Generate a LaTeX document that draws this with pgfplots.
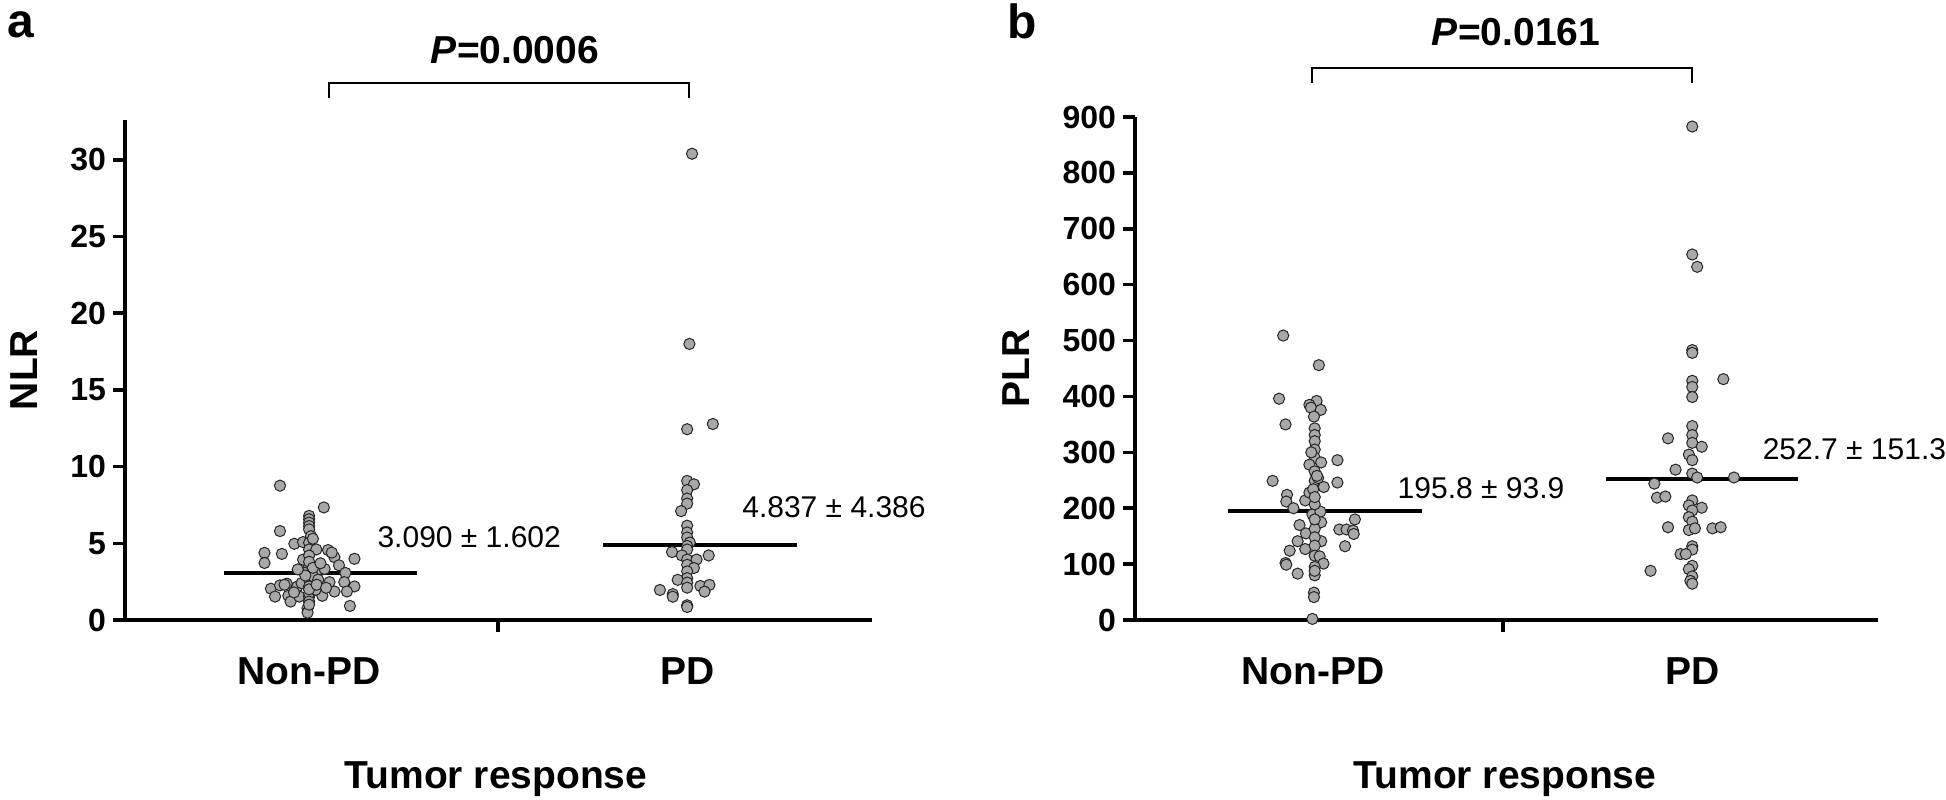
\documentclass[border=0pt]{standalone}
\usepackage{fontspec}
\setmainfont{Liberation Sans}
\usepackage{pgfplots}
\pgfplotsset{compat=1.18}

\definecolor{dotgray}{gray}{0.66}

\tikzset{
  statlab/.style={anchor=west, inner sep=0pt, font=\fontsize{15}{16}\selectfont},
  meanline/.style={line width=2pt, black},
}
\pgfplotsset{
  dotstyle/.style={only marks, mark=*, mark size=2.8pt,
    mark options={fill=dotgray, draw=black!85, line width=0.5pt}},
  panel/.style={
    scale only axis, axis lines=left, clip=false,
    axis line style={-, line width=2pt},
    xtick={1,2}, xticklabels={Non-PD,PD},
    xtick style={draw=none},
    ytick style={line width=1.8pt, black},
    tick align=outside, major tick length=6pt,
    /pgf/number format/assume math mode=true,
    yticklabel style={font=\fontsize{16}{16}\selectfont\bfseries},
    xticklabel style={font=\fontsize{19.5}{20}\selectfont\bfseries, anchor=base, inner sep=0pt, yshift=-26pt},
  },
}

\begin{document}
\begin{tikzpicture}
\useasboundingbox (0,0) rectangle (973pt,-399.5pt);

% ---------------- panel a ----------------
\begin{axis}[panel,
  at={(62.5pt,-310pt)}, anchor=south west,
  width=373.5pt, height=250pt,
  xmin=0.513, xmax=2.489, ymin=0, ymax=32.6,
  ytick={0,5,...,30},
  ylabel={NLR}, xlabel={Tumor response},
  every axis y label/.style={at={(axis description cs:-0.1352,0.5)}, rotate=90, anchor=center, font=\fontsize{19.5}{20}\selectfont\bfseries},
  every axis x label/.style={at={(axis description cs:0.4967,-0.336)}, anchor=base, font=\fontsize{19.5}{20}\selectfont\bfseries},
]
\addplot[dotstyle] table {
x y
0.923 8.76
1.039 7.34
1.000 6.79
1.000 6.57
1.000 6.35
1.000 6.13
1.000 5.91
0.923 5.80
1.005 5.47
0.961 4.97
0.984 5.08
1.000 5.04
0.882 4.38
0.882 3.72
0.928 4.31
1.000 4.60
1.019 4.60
1.050 4.56
1.067 4.10
1.079 3.57
1.120 3.99
0.984 3.94
1.000 3.50
0.989 3.07
1.010 3.18
1.028 3.29
1.041 3.33
1.096 3.07
1.054 2.47
1.093 2.47
1.120 2.19
1.100 1.86
1.067 1.86
0.899 2.04
0.923 2.26
0.941 2.37
0.969 2.19
0.980 2.41
0.910 1.53
0.945 1.58
0.951 1.20
0.974 1.53
1.000 1.53
1.035 1.58
1.000 2.63
1.000 2.19
1.000 1.75
0.996 0.77
0.996 0.48
1.108 0.92
1.010 2.85
1.024 2.63
1.017 1.97
1.000 4.20
1.000 3.80
1.010 3.40
0.990 2.90
1.000 2.00
1.000 1.20
1.000 1.00
1.020 2.30
0.960 1.80
1.045 2.10
0.935 2.30
1.030 3.70
1.060 4.40
0.970 3.30
1.010 5.30
};
\addplot[dotstyle] table {
x y
2.013 30.40
2.006 18.00
2.000 12.44
2.068 12.78
2.000 9.07
2.018 8.85
2.000 8.47
2.000 7.92
2.000 7.59
1.984 7.10
2.000 6.15
2.000 5.71
2.000 5.38
2.007 5.05
2.000 4.83
2.000 4.60
1.960 4.43
1.986 4.21
2.057 4.21
2.000 3.94
2.025 3.94
2.000 3.60
2.018 3.39
2.000 3.17
2.000 2.73
1.975 2.62
2.000 2.44
2.000 2.11
2.035 2.22
2.059 2.29
2.046 1.85
1.928 1.96
1.962 1.69
1.962 1.52
2.000 0.96
2.000 0.85
};
\addplot[meanline] coordinates {(0.775,3.05) (1.286,3.05)};
\addplot[meanline] coordinates {(1.778,4.90) (2.291,4.90)};
\node[statlab] at (axis cs:1.180,5.41) {3.090 ± 1.602};
\node[statlab] at (axis cs:2.145,7.37) {4.837 ± 4.386};
\draw[line width=1.8pt] (axis cs:1.5,0) -- ++(0pt,-6pt);
\draw[line width=2pt] (axis cs:0.513,0) -- ++(-6pt,0pt);
\end{axis}

% ---------------- panel b ----------------
\begin{axis}[panel,
  at={(567.5pt,-310pt)}, anchor=south west,
  width=371.5pt, height=251.5pt,
  xmin=0.53, xmax=2.49, ymin=0, ymax=900,
  ytick={0,100,...,900},
  ylabel={PLR}, xlabel={Tumor response},
  every axis y label/.style={at={(axis description cs:-0.160,0.5)}, rotate=90, anchor=center, font=\fontsize{19.5}{20}\selectfont\bfseries},
  every axis x label/.style={at={(axis description cs:0.498,-0.334)}, anchor=base, font=\fontsize{19.5}{20}\selectfont\bfseries},
]
\addplot[dotstyle] table {
x y
0.921 509
1.015 456
0.910 396
0.927 350
1.009 392
0.990 385
0.994 380
1.020 376
1.002 364
1.004 343
1.004 331
1.004 320
1.004 305
1.004 290
1.064 286
0.990 278
1.021 282
0.893 249
1.064 246
1.004 266
1.004 249
1.013 254
1.028 238
0.931 224
0.929 212
0.948 200
0.979 214
0.990 228
1.000 234
0.998 189
1.019 194
1.004 207
1.110 180
1.069 162
1.088 162
1.105 160
1.107 154
1.084 132
0.964 170
0.981 155
0.959 141
0.979 127
0.938 124
1.021 175
1.004 163
1.021 141
1.004 148
1.004 133
0.927 102
0.929 99
0.959 83
1.004 115
1.017 114
1.027 101
1.004 95
1.004 80
1.002 49
1.002 41
0.998 2
1.004 220
1.004 180
1.010 258
1.004 88
0.995 300
};
\addplot[dotstyle] table {
x y
2.000 883
2.000 654
2.013 632
2.000 483
2.000 478
2.082 431
2.000 428
2.000 417
2.000 399
2.000 347
2.000 331
2.000 317
2.025 310
1.991 296
2.000 286
1.936 325
1.956 269
2.000 262
2.013 255
2.110 255
1.900 244
1.907 219
1.929 221
2.000 214
1.991 205
2.025 201
2.000 196
1.991 184
2.000 176
1.936 166
1.991 161
2.007 164
2.053 164
2.075 166
2.000 132
2.000 126
1.969 118
1.983 118
2.000 97
1.991 91
1.890 88
2.000 78
1.995 70
2.000 65
};
\addplot[meanline] coordinates {(0.776,195.8) (1.288,195.8)};
\addplot[meanline] coordinates {(1.773,252.7) (2.280,252.7)};
\node[statlab] at (axis cs:1.222,236) {195.8 ± 93.9};
\node[statlab] at (axis cs:2.185,306) {252.7 ± 151.3};
\draw[line width=1.8pt] (axis cs:1.5,0) -- ++(0pt,-6pt);
\draw[line width=2pt] (axis cs:0.53,0) -- ++(-5pt,0pt);
\end{axis}

% ---------------- panel letters, P values, brackets ----------------
\node[anchor=base west, inner sep=0pt, font=\fontsize{24}{24}\selectfont\bfseries] at (3.5pt,-18.5pt) {a};
\node[anchor=base west, inner sep=0pt, font=\fontsize{24}{24}\selectfont\bfseries] at (503.5pt,-19pt) {b};
\node[anchor=base, inner sep=0pt, font=\fontsize{19.5}{20}\selectfont\bfseries] at (257.5pt,-31.5pt) {\textit{P}=0.0006};
\node[anchor=base, inner sep=0pt, font=\fontsize{19.5}{20}\selectfont\bfseries] at (758pt,-22.5pt) {\textit{P}=0.0161};
\draw[line width=1.3pt] (164.5pt,-49pt) -- (164.5pt,-41.5pt) -- (344.5pt,-41.5pt) -- (344.5pt,-49pt);
\draw[line width=1.3pt] (656pt,-41.5pt) -- (656pt,-34pt) -- (846pt,-34pt) -- (846pt,-41.5pt);
\end{tikzpicture}
\end{document}
